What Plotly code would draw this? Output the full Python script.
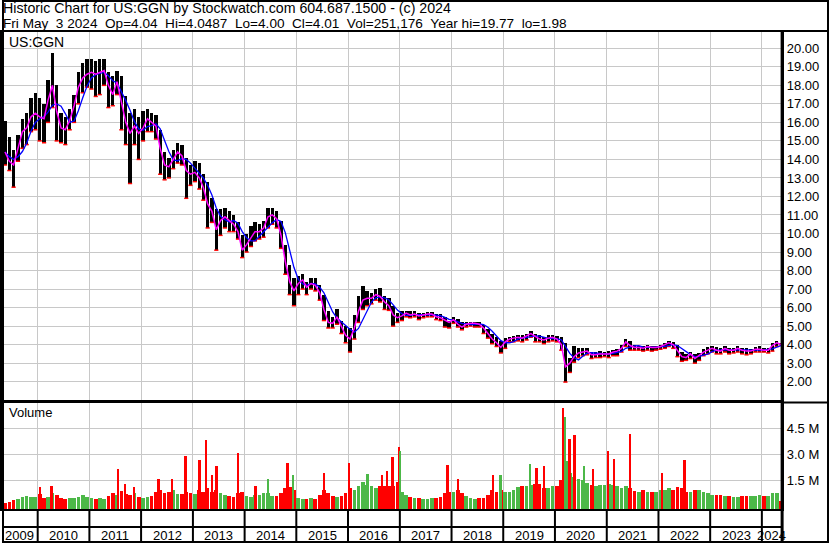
import pandas as pd
import plotly.graph_objects as go

# ---------------- data (monthly) ----------------
months = pd.date_range("2009-05-01", "2024-05-01", freq="MS") + pd.Timedelta(days=14)

close = [
    14.4, 13.9, 13.7, 14.6, 15.5, 15.7, 16.3, 16.5,                        # 2009 May-Dec
    16.3, 16.2, 17.2, 18.0, 16.6, 15.7, 15.6, 16.1, 16.9, 17.9, 18.4, 18.6,  # 2010
    18.7, 18.6, 18.7, 18.8, 18.0, 17.5, 18.2, 17.0, 16.0, 15.4, 15.8, 15.4,  # 2011
    15.7, 16.2, 16.0, 15.8, 14.6, 13.7, 13.6, 14.0, 14.4, 14.2, 13.4, 13.2,  # 2012
    13.3, 13.0, 12.5, 11.6, 11.2, 10.2, 10.7, 10.9, 10.7, 10.5, 10.1, 9.1,   # 2013
    9.4, 9.8, 10.1, 10.1, 10.3, 10.9, 11.0, 10.8, 9.9, 8.5, 7.4, 6.9,        # 2014
    7.3, 7.5, 7.1, 7.3, 7.2, 6.8, 5.9, 5.2, 5.15, 5.5, 5.0, 4.5,             # 2015
    4.3, 4.9, 5.8, 6.4, 6.5, 6.5, 6.7, 6.6, 6.3, 6.1, 5.6, 5.45,             # 2016
    5.55, 5.7, 5.6, 5.65, 5.55, 5.6, 5.65, 5.65, 5.5, 5.45, 5.3, 5.2,        # 2017
    5.35, 5.1, 4.95, 5.1, 5.15, 5.15, 5.1, 4.9, 4.6, 4.3, 4.1, 3.85,         # 2018
    4.15, 4.3, 4.35, 4.4, 4.35, 4.5, 4.6, 4.45, 4.3, 4.25, 4.35, 4.4,        # 2019
    4.3, 4.0, 2.8, 3.0, 3.35, 3.55, 3.6, 3.65, 3.45, 3.45, 3.5, 3.5,         # 2020
    3.5, 3.6, 3.65, 3.8, 4.15, 3.95, 3.85, 3.85, 3.8, 3.9, 3.85, 3.85,       # 2021
    3.9, 4.0, 4.1, 4.0, 3.7, 3.35, 3.3, 3.5, 3.25, 3.4, 3.6, 3.7,            # 2022
    3.8, 3.7, 3.65, 3.8, 3.7, 3.7, 3.8, 3.7, 3.65, 3.65, 3.75, 3.75,         # 2023
    3.7, 3.7, 3.95, 4.1, 4.01,                                               # 2024 Jan-May
]
high = [
    16.1, 15.2, 14.5, 15.3, 16.2, 16.5, 17.3, 17.6,
    17.3, 17.0, 18.3, 19.77, 18.0, 16.5, 16.3, 16.7, 17.5, 18.7, 19.2, 19.4,
    19.4, 19.3, 19.4, 19.4, 18.7, 18.5, 18.8, 18.5, 17.4, 16.5, 16.7, 16.3,
    16.6, 16.7, 16.5, 16.4, 15.6, 14.4, 14.1, 14.5, 14.9, 14.8, 14.1, 13.7,
    13.9, 13.8, 13.2, 12.8, 11.9, 11.3, 11.3, 11.4, 11.2, 11.0, 10.6, 9.9,
    10.0, 10.4, 10.6, 10.5, 10.7, 11.4, 11.4, 11.2, 10.7, 9.4, 8.3, 7.6,
    7.7, 7.8, 7.4, 7.6, 7.6, 7.2, 6.7, 5.8, 5.5, 5.9, 5.3, 5.0,
    4.9, 5.6, 6.6, 7.15, 6.9, 6.8, 7.0, 7.05, 6.6, 6.5, 6.1, 5.7,
    5.8, 5.8, 5.8, 5.8, 5.7, 5.7, 5.75, 5.75, 5.65, 5.65, 5.5, 5.3,
    5.5, 5.4, 5.2, 5.2, 5.2, 5.2, 5.2, 5.05, 4.85, 4.55, 4.4, 4.2,
    4.35, 4.4, 4.45, 4.5, 4.5, 4.6, 4.75, 4.6, 4.5, 4.4, 4.5, 4.5,
    4.45, 4.4, 4.1, 3.3, 3.9, 3.8, 3.8, 3.8, 3.6, 3.6, 3.65, 3.6,
    3.65, 3.7, 3.75, 4.0, 4.3, 4.2, 4.0, 3.95, 3.95, 4.0, 3.95, 3.95,
    4.0, 4.1, 4.2, 4.15, 4.0, 3.6, 3.5, 3.6, 3.5, 3.55, 3.75, 3.85,
    3.9, 3.85, 3.8, 3.9, 3.8, 3.8, 3.9, 3.8, 3.8, 3.75, 3.85, 3.9,
    3.8, 3.8, 4.1, 4.2, 4.05,
]
low = [
    13.7, 13.4, 12.5, 13.9, 14.6, 14.8, 15.5, 15.6,
    15.0, 14.9, 16.0, 16.8, 15.0, 14.9, 14.8, 15.6, 16.0, 17.0, 17.6, 17.9,
    17.8, 17.4, 17.5, 18.0, 16.8, 16.9, 17.5, 15.6, 14.8, 12.7, 14.8, 14.0,
    15.0, 15.5, 15.5, 15.1, 13.2, 12.9, 13.0, 13.5, 13.8, 13.7, 11.9, 12.6,
    12.8, 12.4, 11.8, 10.3, 10.6, 9.1, 9.9, 10.3, 10.1, 10.1, 9.7, 8.7,
    9.0, 9.3, 9.6, 9.7, 9.8, 10.3, 10.5, 10.3, 9.2, 7.8, 6.7, 6.1,
    6.7, 7.0, 6.7, 7.0, 6.9, 6.4, 5.3, 4.9, 4.9, 5.1, 4.6, 4.1,
    3.6, 4.3, 5.2, 5.9, 6.1, 6.2, 6.4, 6.3, 5.9, 5.85, 5.0, 5.2,
    5.3, 5.5, 5.45, 5.5, 5.35, 5.45, 5.5, 5.5, 5.35, 5.3, 4.95, 4.9,
    5.15, 4.95, 4.8, 4.95, 5.0, 4.95, 4.95, 4.6, 4.35, 4.05, 3.9, 3.55,
    3.8, 4.15, 4.15, 4.2, 4.15, 4.25, 4.4, 4.15, 4.15, 4.05, 4.15, 4.2,
    4.15, 3.7, 1.98, 2.5, 3.05, 3.3, 3.4, 3.45, 3.25, 3.3, 3.3, 3.35,
    3.3, 3.4, 3.4, 3.6, 3.9, 3.7, 3.7, 3.7, 3.65, 3.7, 3.65, 3.7,
    3.75, 3.8, 3.9, 3.8, 3.35, 3.1, 3.15, 3.25, 3.0, 3.15, 3.4, 3.5,
    3.6, 3.5, 3.5, 3.6, 3.5, 3.55, 3.6, 3.5, 3.45, 3.5, 3.6, 3.6,
    3.6, 3.55, 3.65, 3.9, 4.0,
]
volume_m = [
    0.2, 0.25, 0.35, 0.45, 0.55, 0.6, 0.55, 0.55,
    0.7, 0.5, 0.55, 0.75, 0.65, 0.5, 0.45, 0.5, 0.5, 0.55, 0.65, 0.55,
    0.5, 0.45, 0.5, 0.45, 0.6, 0.75, 0.65, 0.9, 0.7, 0.65, 0.75, 0.55,
    0.5, 0.55, 0.6, 0.85, 0.95, 0.75, 0.8, 0.95, 0.7, 0.7, 0.85, 0.75,
    0.7, 0.95, 0.85, 1.05, 0.85, 0.95, 0.75, 0.65, 0.6, 0.55, 0.75, 0.85,
    0.6, 0.55, 0.65, 0.65, 0.75, 0.75, 0.6, 0.6, 0.75, 1.05, 1.1, 0.95,
    0.5, 0.4, 0.45, 0.5, 0.45, 0.65, 0.95, 0.75, 0.6, 0.55, 0.6, 0.75,
    1.05, 0.95, 1.2, 1.4, 1.25, 1.15, 1.05, 1.2, 1.15, 1.2, 1.15, 1.4,
    0.85, 0.65, 0.55, 0.5, 0.5, 0.45, 0.45, 0.5, 0.5, 0.55, 0.75, 0.85,
    0.85, 0.95, 0.75, 0.6, 0.5, 0.45, 0.5, 0.5, 0.65, 0.95, 0.85, 0.95,
    0.85, 0.85, 0.95, 1.1, 1.2, 1.2, 1.25, 1.3, 1.3, 1.05, 1.05, 1.2,
    1.2, 1.5, 2.1, 1.9, 1.7, 1.6, 1.5, 1.35, 1.25, 1.15, 1.25, 1.25,
    1.3, 1.25, 1.15, 1.05, 1.15, 1.05, 0.9, 0.85, 0.95, 0.85, 0.85, 0.85,
    0.95, 0.95, 1.05, 0.95, 1.1, 1.05, 0.85, 0.85, 0.95, 0.95, 0.85, 0.75,
    0.65, 0.65, 0.65, 0.6, 0.6, 0.55, 0.55, 0.6, 0.6, 0.6, 0.6, 0.65,
    0.6, 0.6, 0.75, 0.75, 0.3,
]
spike_dates = [
    "2010-01-20", "2010-04-10", "2011-07-25", "2011-09-10", "2011-11-15",
    "2012-05-05", "2012-08-10", "2012-11-12", "2013-02-18", "2013-04-05",
    "2013-05-15", "2013-06-18", "2013-11-18", "2014-03-20", "2014-06-15",
    "2014-11-01", "2014-12-10", "2015-07-15", "2016-01-10", "2016-05-20",
    "2016-09-01", "2016-10-05", "2016-11-12", "2016-12-26", "2017-01-06",
    "2017-12-05", "2018-02-15", "2018-10-20", "2018-12-15", "2019-07-10",
    "2019-08-25", "2019-10-20", "2020-02-28", "2020-03-02", "2020-03-16",
    "2020-03-28", "2020-04-15", "2020-05-20", "2020-07-25", "2020-09-25",
    "2021-01-12", "2021-02-25", "2021-06-15", "2022-01-25", "2022-07-05",
]
spike_vol_m = [
    1.1, 1.2, 2.15, 1.3, 1.1,
    1.6, 1.6, 2.9, 2.7, 3.8,
    1.8, 2.3, 3.05, 1.15, 1.55,
    2.5, 1.8, 1.9, 2.5, 1.85,
    1.8, 2.05, 2.85, 3.4, 3.2,
    2.4, 1.6, 1.8, 1.8, 2.45,
    2.2, 2.3, 3.35, 5.7, 5.15,
    2.6, 3.9, 4.1, 2.35, 2.15,
    3.2, 2.75, 4.2, 1.95, 2.7,
]
spike_up = [
    0, 0, 0, 0, 0,
    0, 0, 0, 0, 0,
    0, 0, 0, 0, 1,
    0, 1, 0, 0, 1,
    0, 0, 0, 0, 1,
    0, 0, 0, 1, 1,
    0, 0, 0, 0, 1,
    1, 0, 0, 1, 0,
    0, 0, 0, 0, 0,
]
years = list(range(2009, 2025))

# ---------------- geometry / styling ----------------
W, H = 830, 543
RED, GREEN, GRID = "#ff0000", "#4cb848", "#c8c8c8"
FONT = "Liberation Sans, Arial, sans-serif"
x_range = [pd.Timestamp("2009-04-24"), pd.Timestamp("2024-05-23")]
VMIN, VMAX = -0.156e6, 5.96e6
DAY = 86400000


def py(p):
    return 1 - p / H


blue_ma = pd.Series(close).rolling(4, min_periods=1).mean()
vol = [v * 1e6 for v in volume_m]
vol_col = [GREEN if i > 0 and close[i] >= close[i - 1] else RED for i in range(len(close))]
spk = [v * 1e6 for v in spike_vol_m]

fig = go.Figure()
fig.add_trace(go.Bar(x=months, base=low, y=[h - l for h, l in zip(high, low)],
                     width=24 * DAY, marker=dict(color="black", line=dict(width=0)),
                     xaxis="x", yaxis="y"))
fig.add_trace(go.Scatter(x=months, y=low, mode="markers",
                         marker=dict(symbol="line-ew", size=3, line=dict(color=RED, width=1.5)),
                         xaxis="x", yaxis="y"))
fig.add_trace(go.Scatter(x=months, y=blue_ma, mode="lines",
                         line=dict(color="#0000ff", width=1.3), xaxis="x", yaxis="y"))
fig.add_trace(go.Scatter(x=months, y=close, mode="lines",
                         line=dict(color="#ff00ff", width=1.5), xaxis="x", yaxis="y"))
fig.add_trace(go.Bar(x=months, base=VMIN, y=[v - VMIN for v in vol], width=26 * DAY,
                     marker=dict(color=vol_col, line=dict(width=0)), xaxis="x2", yaxis="y2"))
fig.add_trace(go.Bar(x=pd.to_datetime(spike_dates), base=VMIN, y=[v - VMIN for v in spk],
                     width=12 * DAY,
                     marker=dict(color=[GREEN if u else RED for u in spike_up], line=dict(width=0)),
                     xaxis="x2", yaxis="y2"))

year_starts = [pd.Timestamp(f"{y}-01-01") for y in years[1:]]
xcommon = dict(type="date", range=x_range, domain=[0, 782 / W], tickvals=year_starts,
               showticklabels=False, ticks="", showgrid=True, gridcolor=GRID, gridwidth=1,
               showline=True, mirror=True, linecolor="black", linewidth=2, zeroline=False)
fig.update_layout(
    width=W, height=H, margin=dict(l=0, r=0, t=0, b=0, pad=0), autosize=False,
    paper_bgcolor="white", plot_bgcolor="white", showlegend=False, barmode="overlay",
    bargap=0, font=dict(family=FONT, size=13, color="black"),
    xaxis=dict(anchor="y", **xcommon),
    xaxis2=dict(anchor="y2", matches="x", **xcommon),
    yaxis=dict(domain=[py(400), py(32)], anchor="x", side="right", range=[1.01, 20.88],
               tickvals=list(range(2, 21)), tickformat=".2f", ticks="", showgrid=True,
               gridcolor=GRID, gridwidth=1, showline=True, mirror=True, linecolor="black",
               linewidth=2, zeroline=False, tickfont=dict(family=FONT, size=13, color="black")),
    yaxis2=dict(domain=[py(509), py(403)], anchor="x2", side="right", range=[VMIN, VMAX],
                tickvals=[1.5e6, 3.0e6, 4.5e6], ticktext=["1.5 M", "3.0 M", "4.5 M"],
                ticks="", showgrid=True, gridcolor=GRID, gridwidth=1, showline=True,
                mirror=True, linecolor="black", linewidth=2, zeroline=False,
                tickfont=dict(family=FONT, size=13, color="black")),
)

shapes = [
    dict(type="rect", xref="paper", yref="paper", x0=1 / W, x1=828 / W, y0=py(542), y1=py(1),
         line=dict(color="black", width=2)),
    dict(type="line", xref="paper", yref="paper", x0=0, x1=828 / W, y0=py(31), y1=py(31),
         line=dict(color="black", width=2)),
    dict(type="line", xref="paper", yref="paper", x0=782 / W, x1=828 / W, y0=py(402.5), y1=py(402.5),
         line=dict(color="black", width=2)),
    dict(type="line", xref="paper", yref="paper", x0=782 / W, x1=782 / W, y0=py(542), y1=py(31),
         line=dict(color="black", width=3)),
    dict(type="line", xref="paper", yref="paper", x0=0, x1=782 / W, y0=py(527), y1=py(527),
         line=dict(color="black", width=2)),
]
for ys in year_starts:
    shapes.append(dict(type="line", xref="x", yref="paper", x0=ys, x1=ys, y0=py(542), y1=py(510),
                       line=dict(color="black", width=2)))
fig.update_layout(shapes=shapes)

ann = [
    dict(text="Historic Chart for US:GGN by Stockwatch.com 604.687.1500 - (c) 2024",
         x=0, y=py(8), size=14.2),
    dict(text="Fri May\u00a0\u00a03 2024\u00a0\u00a0Op=4.04\u00a0\u00a0Hi=4.0487\u00a0\u00a0Lo=4.00"
              "\u00a0\u00a0Cl=4.01\u00a0\u00a0Vol=251,176\u00a0\u00a0Year hi=19.77\u00a0\u00a0lo=1.98",
         x=0, y=py(23.5), size=13.6),
    dict(text="US:GGN", x=6 / W, y=py(42), size=14),
    dict(text="Volume", x=6 / W, y=py(413), size=13),
]
annotations = []
for a in ann:
    size = a.pop("size")
    annotations.append(dict(a, xref="paper", yref="paper", xanchor="left", yanchor="middle",
                            borderpad=0, showarrow=False,
                            font=dict(family=FONT, size=size, color="black")))
bounds = [x_range[0]] + year_starts + [x_range[1]]
for i, y in enumerate(years):
    mid = bounds[i] + (bounds[i + 1] - bounds[i]) / 2
    annotations.append(dict(text=str(y), x=mid, xref="x", y=py(535), yref="paper",
                            xanchor="center", yanchor="middle", showarrow=False,
                            font=dict(family=FONT, size=13, color="black")))
fig.update_layout(annotations=annotations)

fig.write_html("out.html", config={"displayModeBar": False},
               post_script="document.body.style.margin='0px';")
